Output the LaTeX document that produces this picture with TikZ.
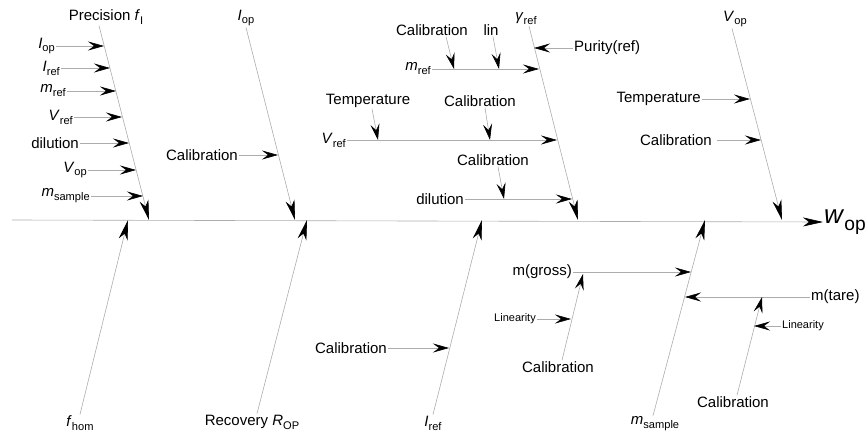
\documentclass[tikz,border=0pt]{standalone}
\usepackage{fontspec}
\setmainfont{Liberation Sans}
\usetikzlibrary{arrows.meta,calc}
\newcommand\vsub[2]{\textit{#1}\raisebox{-0.5ex}{\scalebox{0.74}{#2}}}
\tikzset{
  bone/.style={draw=gray!65, line width=0.6pt, -{Stealth[length=20pt,width=9pt,inset=6pt,black]}},
  twig/.style={draw=gray!65, line width=0.6pt, -{Stealth[length=16pt,width=9pt,inset=6pt,black]}},
  lbl/.style={font=\fontsize{15}{17}\selectfont, inner sep=1pt},
  tiny/.style={font=\fontsize{11}{13}\selectfont, inner sep=1pt},
  big/.style={font=\fontsize{26}{28}\selectfont, inner sep=1pt}
}
\begin{document}
\begin{tikzpicture}[x=1pt, y=-1pt]
\useasboundingbox (0,0) rectangle (868,433);
% spine
\coordinate (s0) at (12,220);
\node[big, anchor=west] (wop) at (823,222) {\vsub{w}{op}};
\draw[bone] (s0) -- (wop.west);

% precision
\node[lbl] (prec) at (106,17) {Precision \vsub{f}{I}};
\coordinate (prec1) at (149,220);
\draw[bone] ([xshift=-7pt]prec.south) -- (prec1);
\node[lbl, anchor=east] (pa) at (56,46) {\vsub{I}{op}};
\coordinate (pa1) at (104,46);
\draw[twig] (pa) -- (pa1);
\node[lbl, anchor=east] (pb) at (61,68) {\vsub{I}{ref}};
\coordinate (pb1) at (110,68);
\draw[twig] (pb) -- (pb1);
\node[lbl, anchor=east] (pc) at (67,91) {\vsub{m}{ref}};
\coordinate (pc1) at (116,91);
\draw[twig] (pc) -- (pc1);
\node[lbl, anchor=east] (pd) at (74,117) {\vsub{V}{ref}};
\coordinate (pd1) at (122,117);
\draw[twig] (pd) -- (pd1);
\node[lbl, anchor=east] (pe) at (80,143) {dilution};
\coordinate (pe1) at (129,143);
\draw[twig] (pe) -- (pe1);
\node[lbl, anchor=east] (pf) at (88,170) {\vsub{V}{op}};
\coordinate (pf1) at (136,170);
\draw[twig] (pf) -- (pf1);
\node[lbl, anchor=east] (pg) at (91,196) {\vsub{m}{sample}};
\coordinate (pg1) at (143,196);
\draw[twig] (pg) -- (pg1);

% I_op
\node[lbl] (iop) at (246,18) {\vsub{I}{op}};
\coordinate (iop1) at (295,220);
\draw[bone] (iop.south) -- (iop1);
\node[lbl, anchor=east] (ia) at (239,155) {Calibration};
\coordinate (ia1) at (278,155);
\draw[twig] (ia) -- (ia1);

% gamma_ref
\node[lbl] (gam) at (526,19) {\vsub{γ}{ref}};
\coordinate (gam1) at (578,220);
\draw[bone] ([xshift=3pt]gam.south) -- (gam1);
\node[lbl, anchor=west] (pur) at (573,48) {Purity(ref)};
\coordinate (pur1) at (534,48);
\draw[twig] (pur) -- (pur1);
\node[lbl, anchor=east] (mref) at (432,69) {\vsub{m}{ref}};
\coordinate (mref1) at (539,69);
\draw[twig] (mref) -- (mref1);
\node[lbl] (ma) at (432,30) {Calibration};
\coordinate (ma1) at (454,69);
\draw[twig] ([xshift=14pt]ma.south) -- (ma1);
\node[lbl] (mb) at (491,30) {lin};
\coordinate (mb1) at (499,69);
\draw[twig] ([xshift=2pt]mb.south) -- (mb1);
\node[lbl, anchor=east] (vref) at (347,140) {\vsub{V}{ref}};
\coordinate (vref1) at (557,140);
\draw[twig] (vref) -- (vref1);
\node[lbl] (va) at (368,101) {Temperature};
\coordinate (va1) at (378,140);
\draw[twig] ([xshift=4pt]va.south) -- (va1);
\node[lbl] (vb) at (480,101) {Calibration};
\coordinate (vb1) at (490,140);
\draw[twig] ([xshift=5pt]vb.south) -- (vb1);
\node[lbl, anchor=east] (dil) at (465,199) {dilution};
\coordinate (dil1) at (572,199);
\draw[twig] (dil) -- (dil1);
\node[lbl] (da) at (493,160) {Calibration};
\coordinate (da1) at (504,199);
\draw[twig] ([xshift=5pt]da.south) -- (da1);

% V_op
\node[lbl] (vop) at (735,19) {\vsub{V}{op}};
\coordinate (vop1) at (782,220);
\draw[bone] ([xshift=-3pt]vop.south) -- (vop1);
\node[lbl, anchor=east] (ta) at (702,99) {Temperature};
\coordinate (ta1) at (750,99);
\draw[twig] (ta) -- (ta1);
\node[lbl, anchor=east] (tb) at (713,140) {Calibration};
\coordinate (tb1) at (761,140);
\draw[twig] ([xshift=4pt]tb.east) -- (tb1);

% f_hom
\node[lbl] (fhom) at (80,423) {\vsub{f}{hom}};
\coordinate (fhom1) at (128,220);
\draw[bone] (fhom.north) -- (fhom1);

% recovery
\node[lbl] (rec) at (252,422) {Recovery \vsub{R}{OP}};
\coordinate (rec1) at (307,220);
\draw[bone] ([xshift=5pt]rec.north) -- (rec1);

% I_ref
\node[lbl] (iref) at (433,423) {\vsub{I}{ref}};
\coordinate (iref1) at (482,220);
\draw[bone] (iref.north) -- (iref1);
\node[lbl, anchor=east] (ra) at (388,348) {Calibration};
\coordinate (ra1) at (449,348);
\draw[twig] (ra) -- (ra1);

% m_sample
\node[lbl] (msam) at (655,424) {\vsub{m}{sample}};
\coordinate (msam1) at (705,220);
\draw[bone] ([xshift=-2pt]msam.north) -- (msam1);
\node[lbl, anchor=east] (gross) at (573,272) {m(gross)};
\coordinate (gross1) at (691,272);
\draw[twig] (gross) -- (gross1);
\node[lbl] (ga) at (558,367) {Calibration};
\coordinate (ga1) at (583,274);
\draw[twig] ([xshift=4pt]ga.north) -- (ga1);
\node[tiny, anchor=east] (gb) at (537,319) {Linearity};
\coordinate (gb1) at (571,319);
\draw[twig] (gb) -- (gb1);
\node[lbl, anchor=west] (tare) at (810,297) {m(tare)};
\coordinate (tare1) at (685,297);
\draw[twig] (tare) -- (tare1);
\node[lbl] (ka) at (733,402) {Calibration};
\coordinate (ka1) at (762,297);
\draw[twig] ([xshift=4pt]ka.north) -- (ka1);
\node[tiny, anchor=west] (kb) at (781,326) {Linearity};
\coordinate (kb1) at (754,326);
\draw[twig] (kb) -- (kb1);
\end{tikzpicture}
\end{document}
